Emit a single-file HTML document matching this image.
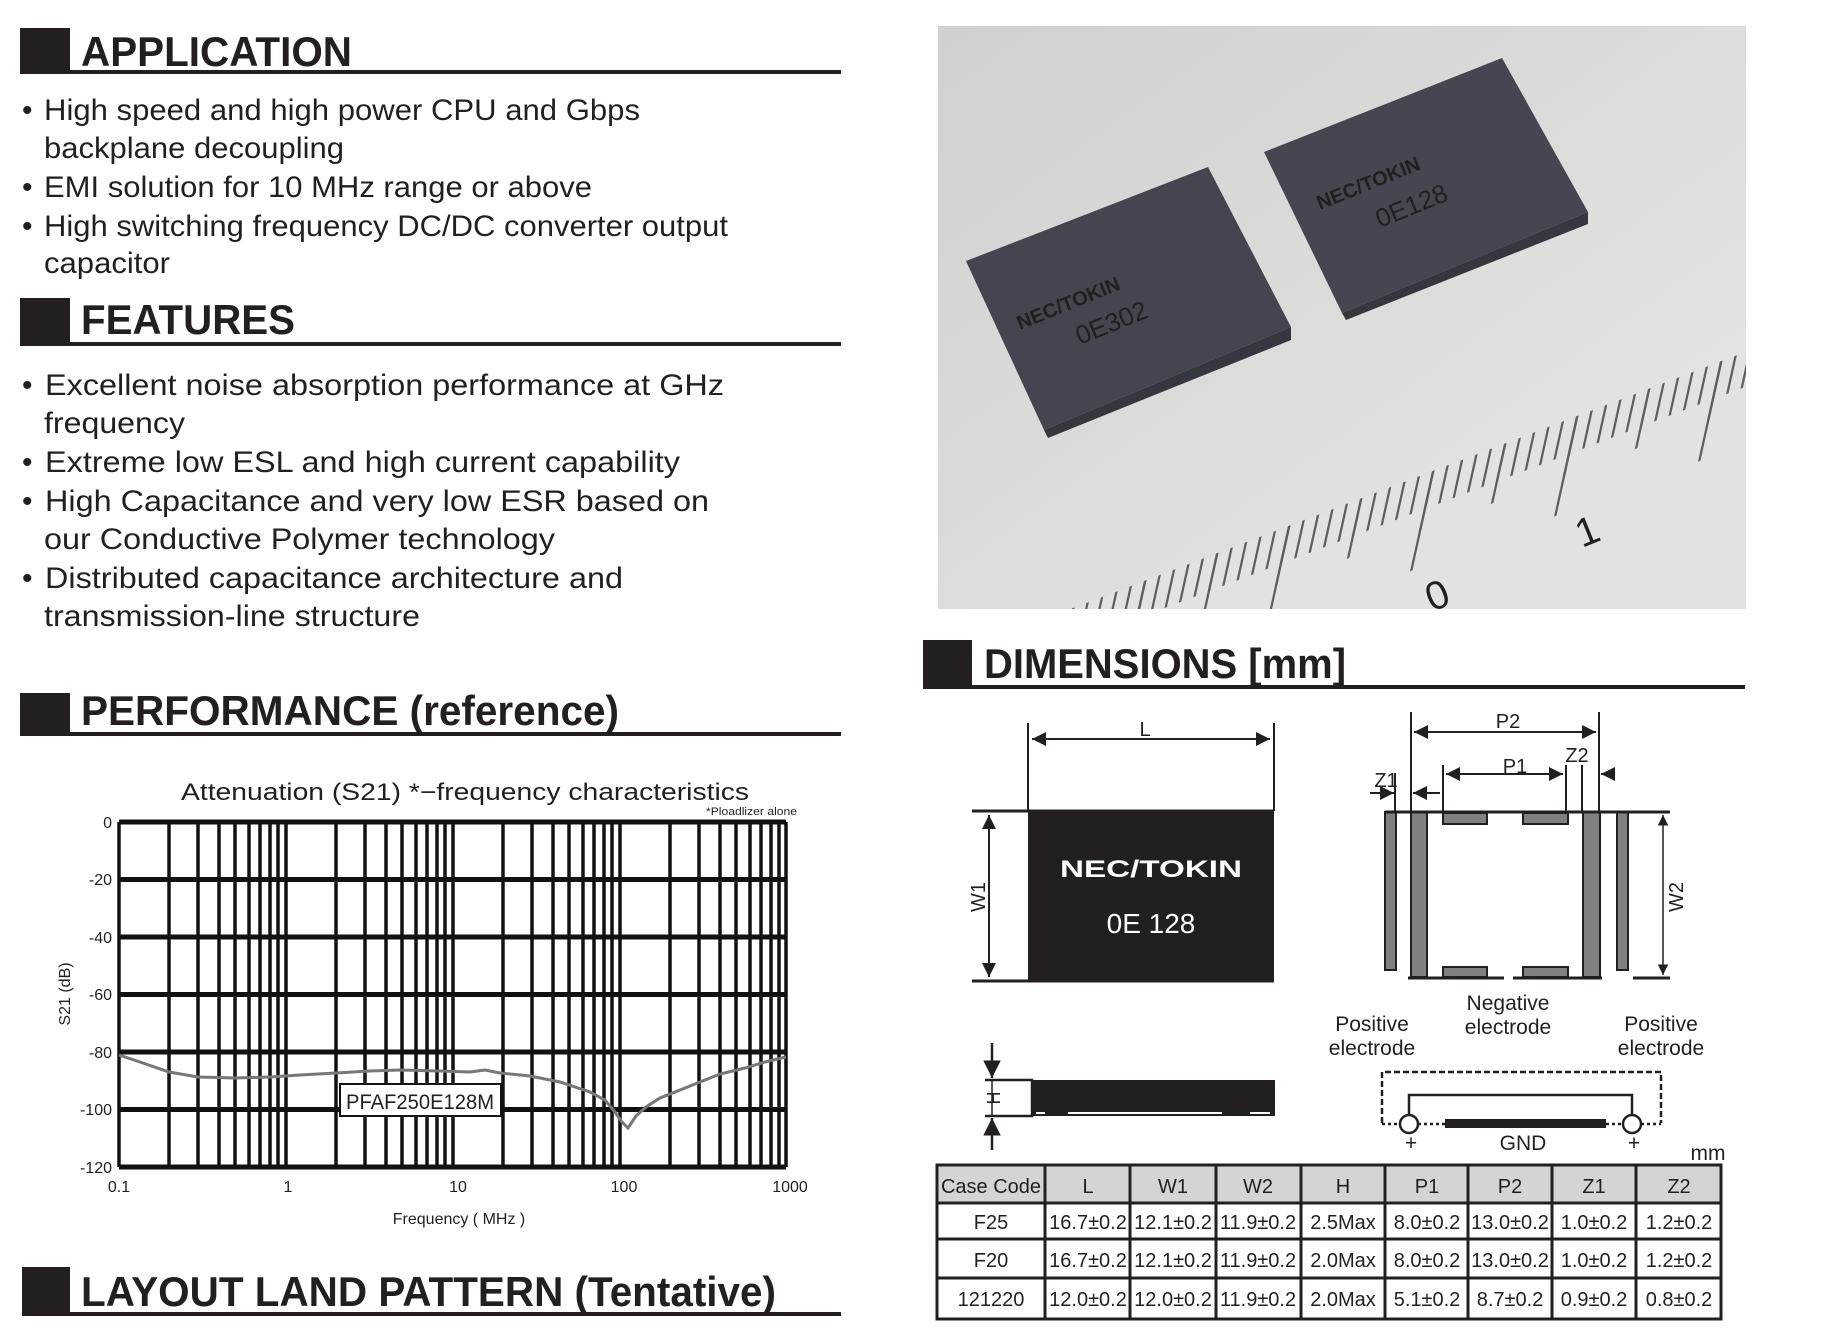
<!DOCTYPE html>
<html><head><meta charset="utf-8"><style>
html,body{margin:0;padding:0;background:#fff;}
svg{display:block;}
text{font-family:"Liberation Sans",Arial,sans-serif;fill:#231f20;}
</style></head><body>
<svg width="1841" height="1339" viewBox="0 0 1841 1339" xmlns="http://www.w3.org/2000/svg">
<defs>
<linearGradient id="bg" x1="0" y1="0" x2="1" y2="1">
<stop offset="0" stop-color="#cfd0d0"/><stop offset="0.5" stop-color="#dcdcdb"/><stop offset="1" stop-color="#e9e9e8"/>
</linearGradient>
<marker id="ah" viewBox="0 0 10 10" refX="10" refY="5" markerWidth="7" markerHeight="7" orient="auto-start-reverse"><path d="M0,0 L10,5 L0,10 z" fill="#231f20"/></marker>
<clipPath id="ph"><rect x="938" y="26" width="808" height="583"/></clipPath>
</defs>

<!-- Section headers -->
<g fill="#231f20">
<rect x="20" y="28" width="50" height="46"/><rect x="20" y="70" width="821" height="4"/>
<rect x="20" y="298" width="50" height="48"/><rect x="20" y="342" width="821" height="4"/>
<rect x="20" y="693" width="50" height="43"/><rect x="20" y="732" width="821" height="4"/>
<rect x="22" y="1267" width="48" height="49"/><rect x="22" y="1312" width="819" height="4"/>
<rect x="923" y="640" width="49" height="49"/><rect x="923" y="685" width="822" height="4"/>
</g>
<g font-weight="bold" font-size="42">
<text x="81" y="66" textLength="271" lengthAdjust="spacingAndGlyphs">APPLICATION</text>
<text x="81" y="334" textLength="214" lengthAdjust="spacingAndGlyphs">FEATURES</text>
<text x="81" y="725" textLength="538" lengthAdjust="spacingAndGlyphs">PERFORMANCE (reference)</text>
<text x="81" y="1306" textLength="695" lengthAdjust="spacingAndGlyphs">LAYOUT LAND PATTERN (Tentative)</text>
<text x="984" y="678" textLength="362" lengthAdjust="spacingAndGlyphs">DIMENSIONS [mm]</text>
</g>

<!-- Bullets -->
<g font-size="30">
<text x="22" y="120">•</text>
<text x="44" y="120" textLength="596" lengthAdjust="spacingAndGlyphs">High speed and high power CPU and Gbps</text>
<text x="44" y="158" textLength="300" lengthAdjust="spacingAndGlyphs">backplane decoupling</text>
<text x="22" y="197">•</text>
<text x="44" y="197" textLength="548" lengthAdjust="spacingAndGlyphs">EMI solution for 10 MHz range or above</text>
<text x="22" y="236">•</text>
<text x="44" y="236" textLength="684" lengthAdjust="spacingAndGlyphs">High switching frequency DC/DC converter output</text>
<text x="44" y="273" textLength="126" lengthAdjust="spacingAndGlyphs">capacitor</text>
<text x="22" y="395">•</text>
<text x="45" y="395" textLength="679" lengthAdjust="spacingAndGlyphs">Excellent noise absorption performance at GHz</text>
<text x="44" y="433" textLength="141" lengthAdjust="spacingAndGlyphs">frequency</text>
<text x="22" y="472">•</text>
<text x="45" y="472" textLength="635" lengthAdjust="spacingAndGlyphs">Extreme low ESL and high current capability</text>
<text x="22" y="511">•</text>
<text x="45" y="511" textLength="664" lengthAdjust="spacingAndGlyphs">High Capacitance and very low ESR based on</text>
<text x="44" y="549" textLength="511" lengthAdjust="spacingAndGlyphs">our Conductive Polymer technology</text>
<text x="22" y="588">•</text>
<text x="45" y="588" textLength="578" lengthAdjust="spacingAndGlyphs">Distributed capacitance architecture and</text>
<text x="44" y="626" textLength="376" lengthAdjust="spacingAndGlyphs">transmission-line structure</text>
</g>

<!-- Chart -->
<text x="181" y="800" font-size="24" textLength="568" lengthAdjust="spacingAndGlyphs">Attenuation (S21) *−frequency characteristics</text>
<text x="706" y="815" font-size="11" textLength="91" lengthAdjust="spacingAndGlyphs">*Ploadlizer alone</text>
<g stroke="#111" fill="none">
<path stroke-width="3.5" d="M119,822V1167M169,822V1167M198,822V1167M219,822V1167M235,822V1167M249,822V1167M260,822V1167M270,822V1167M278,822V1167M286,822V1167M336,822V1167M365,822V1167M386,822V1167M402,822V1167M416,822V1167M427,822V1167M437,822V1167M445,822V1167M453,822V1167M503,822V1167M532,822V1167M553,822V1167M569,822V1167M583,822V1167M594,822V1167M604,822V1167M612,822V1167M620,822V1167M670,822V1167M699,822V1167M720,822V1167M736,822V1167M750,822V1167M761,822V1167M771,822V1167M779,822V1167M786,822V1167"/>
<path stroke-width="5" d="M119,822H786M119,879.5H786M119,937H786M119,994.5H786M119,1052H786M119,1109.5H786M119,1167H786"/>
</g>
<polyline fill="none" stroke="#777" stroke-width="3" points="119,1055 140,1062 169,1072 198,1077 235,1078 270,1077 300,1075 336,1073 370,1071 400,1070 440,1071 470,1072 485,1070 500,1073 530,1076 560,1082 590,1092 605,1100 615,1112 622,1122 628,1128 632,1122 636,1116 646,1107 660,1098 680,1090 700,1082 720,1074 745,1068 765,1062 786,1057"/>
<rect x="340" y="1084" width="161" height="32" fill="#fff" stroke="#111" stroke-width="2"/>
<text x="420" y="1109" font-size="21" text-anchor="middle" textLength="148" lengthAdjust="spacingAndGlyphs">PFAF250E128M</text>
<g font-size="16" text-anchor="end">
<text x="112" y="828">0</text><text x="112" y="885">-20</text><text x="112" y="943">-40</text><text x="112" y="1000">-60</text><text x="112" y="1058">-80</text><text x="112" y="1115">-100</text><text x="112" y="1173">-120</text>
</g>
<g font-size="16" text-anchor="middle">
<text x="119" y="1192">0.1</text><text x="288" y="1192">1</text><text x="458" y="1192">10</text><text x="624" y="1192">100</text><text x="790" y="1192">1000</text>
<text x="459" y="1224">Frequency ( MHz )</text>
<text transform="translate(70,994) rotate(-90)" font-size="16">S21 (dB)</text>
</g>

<!-- Photo -->
<rect x="938" y="26" width="808" height="583" fill="url(#bg)"/>
<g clip-path="url(#ph)">
<polygon points="1074,609 1746,352 1746,609" fill="#e2e2e1"/>
<g transform="matrix(1,-0.381,-0.22,1,1433,471)" stroke="#5e5e5e" fill="none">
<line x1="-361" y1="19" x2="340" y2="19" stroke-width="38" stroke-dasharray="2.5,11.9"/>
<line x1="-361" y1="30" x2="340" y2="30" stroke-width="60" stroke-dasharray="2.5,69.5"/>
<line x1="-289" y1="50" x2="340" y2="50" stroke-width="100" stroke-dasharray="2.5,141.5"/>
</g>
<g fill="#555" font-size="40">
<text transform="translate(1432,612) rotate(-22)">0</text>
<text transform="translate(1582,548) rotate(-22)">1</text>
</g>
</g>
<polygon points="966,261 1208,167 1291,327 1044,430" fill="#43464f"/>
<polygon points="1044,430 1291,327 1291,340 1048,438" fill="#35373e"/>
<polygon points="1264,152 1502,58 1588,212 1342,313" fill="#44474f"/>
<polygon points="1342,313 1588,212 1588,224 1346,320" fill="#35373e"/>
<g fill="#8a8b90" font-size="20" font-weight="bold">
<text transform="translate(1020,330) rotate(-22)">NEC/TOKIN</text>
<text transform="translate(1320,210) rotate(-22)">NEC/TOKIN</text>
<text transform="translate(1080,345) rotate(-22)" font-weight="normal" font-size="26">0E302</text>
<text transform="translate(1380,228) rotate(-22)" font-weight="normal" font-size="26">0E128</text>
</g>

<!-- Top view -->
<g stroke="#231f20" fill="none" stroke-width="2">
<line x1="1028" y1="723" x2="1028" y2="811"/><line x1="1274" y1="723" x2="1274" y2="811"/>
<line x1="1032" y1="739" x2="1270" y2="739" marker-start="url(#ah)" marker-end="url(#ah)"/>
<line x1="972" y1="811" x2="1274" y2="811" stroke-width="3"/><line x1="972" y1="981" x2="1274" y2="981" stroke-width="3"/>
<line x1="989" y1="815" x2="989" y2="977" marker-start="url(#ah)" marker-end="url(#ah)"/>
</g>
<rect x="1028" y="811" width="246" height="171" fill="#231f20"/>
<text x="1151" y="877" font-size="24" font-weight="bold" text-anchor="middle" style="fill:#fff" textLength="182" lengthAdjust="spacingAndGlyphs">NEC/TOKIN</text>
<text x="1151" y="933" font-size="28" text-anchor="middle" style="fill:#fff">0E  128</text>
<text x="1145" y="736" font-size="20" text-anchor="middle">L</text>
<text transform="translate(985,897) rotate(-90)" font-size="20" text-anchor="middle">W1</text>

<!-- Side view -->
<rect x="1032" y="1080" width="243" height="36" fill="#231f20"/>
<g stroke="#fff" stroke-width="2"><line x1="1036" y1="1113" x2="1045" y2="1113"/><line x1="1068" y1="1113" x2="1222" y2="1113"/><line x1="1250" y1="1113" x2="1270" y2="1113"/></g>
<g stroke="#231f20" fill="none" stroke-width="2.5">
<path d="M985,1080H1032V1116H985"/>
<line x1="992" y1="1043" x2="992" y2="1078" marker-end="url(#ah)"/>
<line x1="992" y1="1150" x2="992" y2="1118" marker-end="url(#ah)"/>
<line x1="992" y1="1080" x2="992" y2="1116" stroke-width="1.5"/>
</g>
<text transform="translate(1000,1098) rotate(-90)" font-size="18" text-anchor="middle">H</text>

<!-- Land pattern -->
<g fill="#808080" stroke="#231f20" stroke-width="2">
<rect x="1385" y="812" width="11" height="158"/>
<rect x="1411" y="812" width="16" height="165"/>
<rect x="1583" y="812" width="17" height="165"/>
<rect x="1617" y="812" width="11" height="158"/>
<rect x="1443" y="813" width="44" height="11"/><rect x="1523" y="813" width="45" height="11"/>
<rect x="1443" y="967" width="44" height="10"/><rect x="1523" y="967" width="45" height="10"/>
</g>
<g stroke="#231f20" fill="none" stroke-width="3">
<line x1="1385" y1="812" x2="1670" y2="812"/>
<path d="M1408,978H1504M1513,978H1602M1633,978H1670"/>
</g>
<g stroke="#231f20" fill="none" stroke-width="2">
<line x1="1411" y1="712" x2="1411" y2="812"/><line x1="1599" y1="712" x2="1599" y2="812"/>
<line x1="1414" y1="732" x2="1596" y2="732" marker-start="url(#ah)" marker-end="url(#ah)"/>
<line x1="1443" y1="765" x2="1443" y2="812"/><line x1="1566" y1="765" x2="1566" y2="812"/><line x1="1582" y1="765" x2="1582" y2="812"/>
<line x1="1446" y1="774" x2="1563" y2="774" marker-start="url(#ah)" marker-end="url(#ah)"/>
<line x1="1612" y1="774" x2="1601" y2="774" marker-end="url(#ah)"/>
<line x1="1395" y1="773" x2="1395" y2="812"/>
<line x1="1370" y1="793" x2="1394" y2="793" marker-end="url(#ah)"/>
<line x1="1440" y1="793" x2="1413" y2="793" marker-end="url(#ah)"/>
<line x1="1663" y1="815" x2="1663" y2="975" stroke-width="1.5" marker-start="url(#ah)" marker-end="url(#ah)"/>
</g>
<g font-size="20" text-anchor="middle">
<text x="1508" y="728">P2</text><text x="1515" y="773">P1</text><text x="1577" y="762">Z2</text><text x="1386" y="787">Z1</text>
<text transform="translate(1683,897) rotate(-90)">W2</text>
</g>
<g font-size="21" text-anchor="middle">
<text x="1372" y="1031">Positive</text><text x="1372" y="1055">electrode</text>
<text x="1508" y="1010">Negative</text><text x="1508" y="1034">electrode</text>
<text x="1661" y="1031">Positive</text><text x="1661" y="1055">electrode</text>
</g>

<!-- Circuit -->
<g stroke="#231f20" fill="none" stroke-width="2.5">
<path d="M1382,1123V1072H1661V1123" stroke-dasharray="6,3"/>
<path d="M1382,1124H1400M1418,1124H1445M1606,1124H1623M1641,1124H1661" stroke-dasharray="3,3"/>
<path d="M1409,1115V1095H1632V1115"/>
<circle cx="1409" cy="1124" r="9" fill="#fff"/><circle cx="1632" cy="1124" r="9" fill="#fff"/>
</g>
<rect x="1445" y="1119" width="161" height="9" fill="#231f20"/>
<g font-size="21" text-anchor="middle">
<text x="1411" y="1150">+</text><text x="1523" y="1150">GND</text><text x="1634" y="1150">+</text>
<text x="1708" y="1160">mm</text>
</g>

<!-- Table -->
<rect x="937" y="1165" width="784" height="38" fill="#d4d4d4"/>
<g stroke="#231f20" fill="none" stroke-width="3">
<rect x="937" y="1165" width="784" height="154"/>
<path d="M937,1203H1721M937,1239H1721M937,1278H1721"/>
<path d="M1045,1165V1319M1130,1165V1319M1216,1165V1319M1301,1165V1319M1385,1165V1319M1468,1165V1319M1552,1165V1319M1636,1165V1319"/>
</g>
<g font-size="20" text-anchor="middle">
<text x="991" y="1193">Case Code</text><text x="1088" y="1193">L</text><text x="1173" y="1193">W1</text><text x="1258" y="1193">W2</text><text x="1343" y="1193">H</text><text x="1427" y="1193">P1</text><text x="1510" y="1193">P2</text><text x="1594" y="1193">Z1</text><text x="1679" y="1193">Z2</text>
<text x="991" y="1229">F25</text><text x="1088" y="1229">16.7±0.2</text><text x="1173" y="1229">12.1±0.2</text><text x="1258" y="1229">11.9±0.2</text><text x="1343" y="1229">2.5Max</text><text x="1427" y="1229">8.0±0.2</text><text x="1510" y="1229">13.0±0.2</text><text x="1594" y="1229">1.0±0.2</text><text x="1679" y="1229">1.2±0.2</text>
<text x="991" y="1267">F20</text><text x="1088" y="1267">16.7±0.2</text><text x="1173" y="1267">12.1±0.2</text><text x="1258" y="1267">11.9±0.2</text><text x="1343" y="1267">2.0Max</text><text x="1427" y="1267">8.0±0.2</text><text x="1510" y="1267">13.0±0.2</text><text x="1594" y="1267">1.0±0.2</text><text x="1679" y="1267">1.2±0.2</text>
<text x="991" y="1306">121220</text><text x="1088" y="1306">12.0±0.2</text><text x="1173" y="1306">12.0±0.2</text><text x="1258" y="1306">11.9±0.2</text><text x="1343" y="1306">2.0Max</text><text x="1427" y="1306">5.1±0.2</text><text x="1510" y="1306">8.7±0.2</text><text x="1594" y="1306">0.9±0.2</text><text x="1679" y="1306">0.8±0.2</text>
</g>
</svg>
</body></html>
